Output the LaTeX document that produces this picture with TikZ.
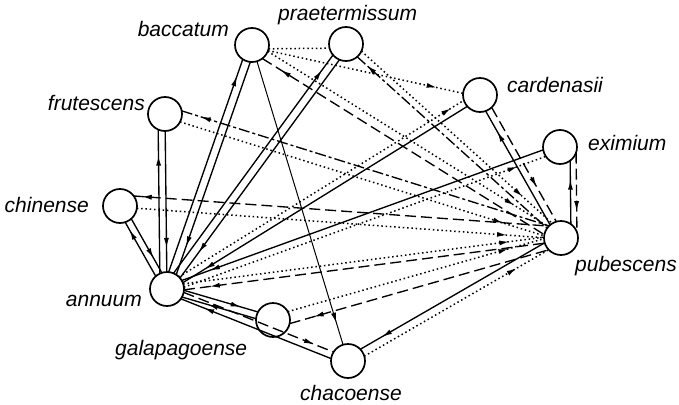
\documentclass[tikz,border=0pt]{standalone}
\usepackage{fontspec}
\setmainfont{Liberation Sans}
\usetikzlibrary{calc,decorations.markings,arrows.meta}
\tikzset{
  sp/.style={circle,draw,line width=1.7pt,minimum size=34pt,inner sep=0pt,fill=white},
  lab/.style={font=\fontsize{21}{25}\selectfont\itshape,inner sep=0pt},
  sol/.style={line width=1.35pt},
  dsh/.style={line width=1.35pt,dash pattern=on 11pt off 5pt},
  dot/.style={line width=1.5pt,dash pattern=on 1.5pt off 2.8pt},
  dd/.style={line width=1.35pt,dash pattern=on 11pt off 3pt on 3pt off 3pt},
  thinl/.style={line width=1pt},
  tob/.style={postaction={decorate},decoration={markings,mark=at position -#1 with {\arrow{Latex[length=10pt,width=5pt]}}}},
  toa/.style={postaction={decorate},decoration={markings,mark=at position #1 with {\arrowreversed{Latex[length=10pt,width=5pt]}}}},
}
\newcommand\sedge[4][]{%
  \pgfmathsetmacro\edal{sqrt(289-(#4)*(#4))}%
  \draw[#1] ($(#2)!\edal pt!(#3)!#4pt!90:(#3)$) -- ($(#3)!\edal pt!(#2)!#4pt!-90:(#2)$);}
\begin{document}
\begin{tikzpicture}[x=1pt,y=-1pt]
\useasboundingbox (0,0) rectangle (679,404);
% species
\node[sp] (bac) at (252,45) {};
\node[sp] (pra) at (346,44) {};
\node[sp] (fru) at (165,114) {};
\node[sp] (chi) at (120,206) {};
\node[sp] (ann) at (167,289) {};
\node[sp] (gal) at (273,320) {};
\node[sp] (cha) at (348,361) {};
\node[sp] (car) at (480,95) {};
\node[sp] (exi) at (560,147) {};
\node[sp] (pub) at (561,238) {};
% labels
\node[lab,anchor=base east] (lbac) at (229,37) {baccatum};
\node[lab,anchor=base west] (lpra) at (278,21) {praetermissum};
\node[lab,anchor=base west] (lcar) at (507,92) {cardenasii};
\node[lab,anchor=base west] (lexi) at (588,150) {eximium};
\node[lab,anchor=base west] (lpub) at (575,271) {pubescens};
\node[lab,anchor=base east] (lfru) at (145,110) {frutescens};
\node[lab,anchor=base east] (lchi) at (89,212) {chinense};
\node[lab,anchor=base east] (lann) at (142,306) {annuum};
\node[lab,anchor=base west] (lgal) at (115,355) {galapagoense};
\node[lab,anchor=base west] (lcha) at (300,400) {chacoense};
% annuum connections
\sedge[sol,tob=9pt]{ann}{chi}{3.5}
\sedge[sol,toa=17pt]{ann}{chi}{-3.5}
\sedge[sol,tob=26pt]{ann}{fru}{7}
\sedge[sol,toa=24pt]{ann}{fru}{0}
\sedge[sol,tob=18pt]{ann}{bac}{4}
\sedge[sol,toa=30pt]{ann}{bac}{-4}
\sedge[sol,tob=19pt]{ann}{pra}{4}
\sedge[sol,toa=32pt]{ann}{pra}{-4}
\sedge[dot,tob=15pt]{ann}{car}{4}
\sedge[sol,toa=26pt]{ann}{car}{-3}
\sedge[sol,toa=30pt]{ann}{exi}{3}
\sedge[dot,tob=30pt]{ann}{exi}{-4}
\sedge[dot,tob=35pt]{ann}{pub}{3}
\sedge[dsh,toa=26pt]{ann}{pub}{-3}
\sedge[sol,tob=18pt]{ann}{gal}{3.5}
\sedge[sol,toa=27pt]{ann}{gal}{-3.5}
\sedge[dsh,tob=21pt]{ann}{cha}{3}
\sedge[sol,toa=25pt]{ann}{cha}{-4}
% others
\sedge[thinl,tob=23pt]{bac}{cha}{0}
\sedge[dot,tob=37pt]{gal}{pub}{4}
\sedge[dsh,toa=25pt]{gal}{pub}{-8}
\sedge[sol,toa=25pt]{cha}{pub}{4}
\sedge[dot,tob=37pt]{cha}{pub}{-4}
\sedge[dsh,toa=8pt]{chi}{pub}{11}
\sedge[dot,tob=37pt]{chi}{pub}{-1}
\sedge[dd,toa=20pt]{fru}{pub}{8}
\sedge[dot,tob=43pt]{fru}{pub}{-3}
\sedge[dot,tob=40pt]{bac}{pub}{3}
\sedge[dsh,toa=22pt]{bac}{pub}{-6}
\sedge[dot,tob=40pt]{pra}{pub}{5}
\sedge[dd,toa=13pt]{pra}{pub}{-2}
\sedge[dot]{bac}{pra}{-4}
\sedge[dot,tob=27pt]{bac}{car}{-2}
\sedge[dsh,tob=40pt]{car}{pub}{4}
\sedge[sol,toa=24pt]{car}{pub}{-3}
\sedge[dsh,tob=21pt]{exi}{pub}{16}
\sedge[sol,toa=19pt]{exi}{pub}{10}
\end{tikzpicture}
\end{document}
